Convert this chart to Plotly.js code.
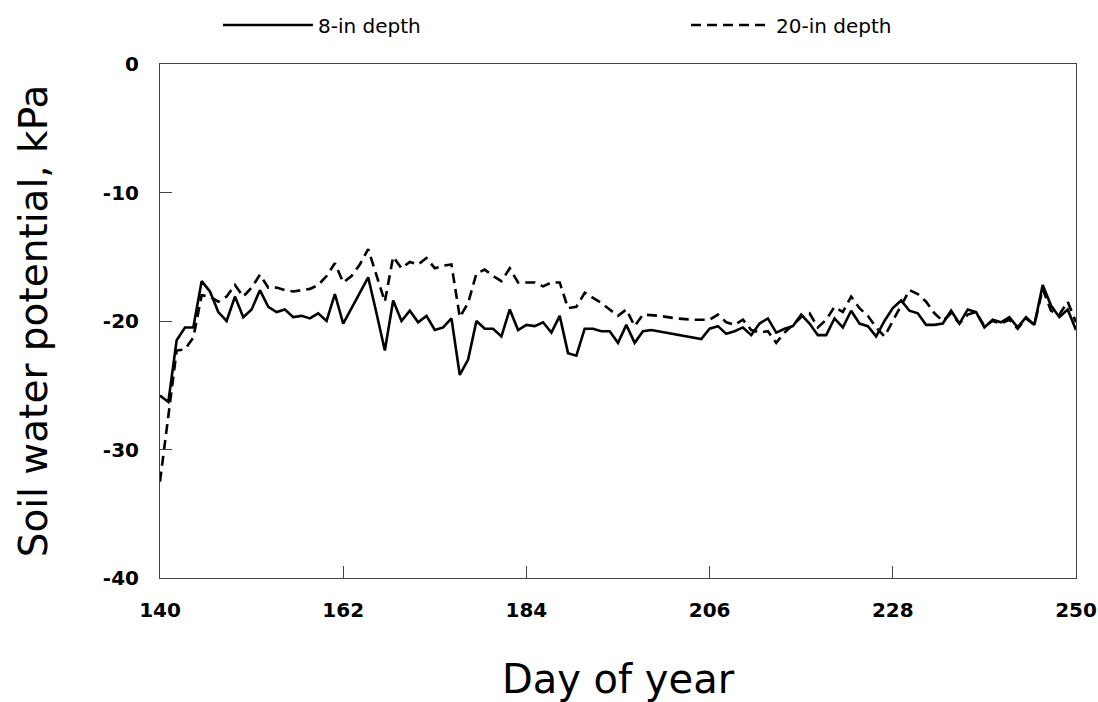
<!DOCTYPE html>
<html>
<head>
<meta charset="utf-8">
<script src="https://cdn.plot.ly/plotly-3.0.1.min.js"></script>
<style>html,body{margin:0;padding:0;background:#fff;}#chart{width:1098px;height:702px;}</style>
</head>
<body>
<div id="chart"></div>
<script>
// Day of year and soil water potential (kPa)
var days8 = [140,141,142,143,144,145,146,147,148,149,150,151,152,153,154,155,156,157,158,159,
  160,161,162,163,164,165,166,167,168,169,170,171,172,173,174,175,176,177,178,179,
  180,181,182,183,184,185,186,187,188,189,190,191,192,193,194,195,196,197,198,199,
  205,206,207,208,209,210,211,212,213,214,215,216,217,218,219,220,221,222,223,224,
  225,226,227,228,229,230,231,232,233,234,235,236,237,238,239,240,241,242,243,244,
  245,246,247,248,249,250];
var depth8 = [-25.8,-26.3,-21.5,-20.5,-20.5,-16.9,-17.7,-19.3,-20.0,-18.1,-19.7,-19.1,-17.6,-18.9,-19.3,-19.1,-19.7,-19.6,-19.8,-19.4,
  -20.0,-17.9,-20.2,-19.0,-17.8,-16.6,-19.4,-22.3,-18.4,-20.0,-19.2,-20.1,-19.6,-20.7,-20.5,-19.8,-24.2,-23.0,-20.0,-20.6,
  -20.6,-21.2,-19.1,-20.7,-20.3,-20.4,-20.1,-20.9,-19.6,-22.5,-22.7,-20.6,-20.6,-20.8,-20.8,-21.7,-20.3,-21.7,-20.8,-20.7,
  -21.4,-20.6,-20.4,-21.0,-20.8,-20.5,-21.1,-20.2,-19.8,-20.9,-20.6,-20.4,-19.5,-20.2,-21.1,-21.1,-19.8,-20.5,-19.2,-20.2,
  -20.4,-21.2,-20.0,-19.0,-18.4,-19.2,-19.4,-20.3,-20.3,-20.2,-19.2,-20.2,-19.1,-19.3,-20.5,-19.9,-20.1,-19.7,-20.5,-19.7,
  -20.3,-17.2,-18.8,-19.7,-19.1,-20.7];

var days20 = [140,141,142,143,144,145,146,147,148,149,150,151,152,153,154,155,156,157,158,159,
  160,161,162,163,164,165,166,167,168,169,170,171,172,173,174,175,176,177,178,179,
  180,181,182,183,184,185,186,187,188,189,190,191,192,193,194,195,196,197,198,
  200,202,204,206,207,208,209,210,211,212,213,214,215,216,217,218,219,220,221,222,
  223,224,225,226,227,228,229,230,231,232,233,234,235,236,237,238,239,240,241,242,
  243,244,245,246,247,248,249,250];
var depth20 = [-32.5,-27.4,-22.3,-22.2,-21.3,-18.0,-18.1,-18.5,-18.1,-17.2,-18.1,-17.4,-16.4,-17.4,-17.4,-17.6,-17.7,-17.6,-17.5,-17.2,
  -16.5,-15.5,-17.0,-16.5,-15.6,-14.4,-16.5,-18.5,-15.0,-15.9,-15.4,-15.6,-15.1,-15.9,-15.7,-15.6,-19.7,-18.6,-16.3,-16.0,
  -16.5,-16.9,-15.9,-17.0,-17.0,-17.0,-17.3,-17.0,-17.0,-19.0,-18.9,-17.8,-18.2,-18.6,-19.1,-19.6,-19.1,-20.4,-19.5,
  -19.6,-19.8,-19.9,-19.9,-19.5,-20.1,-20.3,-19.9,-20.7,-20.9,-20.8,-21.7,-20.9,-20.3,-19.7,-19.4,-20.5,-19.9,-18.9,-19.3,
  -18.1,-19.0,-19.6,-20.5,-21.2,-20.0,-18.8,-17.6,-17.9,-18.5,-19.4,-20.0,-19.4,-20.2,-19.5,-19.3,-20.4,-20.0,-20.2,-19.9,
  -20.6,-19.8,-20.3,-17.5,-19.2,-19.5,-18.5,-20.1];

var xTicks = [140,162,184,206,228,250];
var yTicks = [0,-10,-20,-30,-40];
var seriesNames = ['8-in depth','20-in depth'];

var FONT = 'DejaVu Sans, Verdana, sans-serif';

var traces = [
  {x: days8, y: depth8, name: seriesNames[0], type: 'scatter', mode: 'lines', legend: 'legend',
   line: {color: '#000', width: 2.6}},
  {x: days20, y: depth20, name: seriesNames[1], type: 'scatter', mode: 'lines', legend: 'legend2',
   line: {color: '#000', width: 2.6, dash: '10px,6px'}}
];

var axisCommon = {
  showgrid: false, zeroline: false, showline: true, mirror: true,
  linecolor: '#444', linewidth: 1, ticks: 'inside', ticklen: 12, tickcolor: '#444',
  tickfont: {family: FONT, size: 20, color: '#000', weight: 'bold'}
};

var legendCommon = {orientation: 'h', yanchor: 'middle', xanchor: 'left',
  xref: 'container', yref: 'container', y: 0.9644,
  font: {family: FONT, size: 20, color: '#000'}, bgcolor: 'rgba(0,0,0,0)', borderwidth: 0};

var layout = {
  width: 1098, height: 702,
  paper_bgcolor: '#fff', plot_bgcolor: '#fff',
  margin: {l: 160, r: 22, t: 64, b: 124, autoexpand: false},
  showlegend: true,
  legend: Object.assign({}, legendCommon, {x: 0.1985, itemwidth: 90}),
  legend2: Object.assign({}, legendCommon, {x: 0.6248, itemwidth: 80}),
  xaxis: Object.assign({}, axisCommon, {
    range: [140, 250], tickmode: 'array', tickvals: xTicks, ticktext: xTicks.map(String),
    ticklabelstandoff: 14,
    title: {text: 'Day of year', font: {family: FONT, size: 40, color: '#000'}, standoff: 44}
  }),
  yaxis: Object.assign({}, axisCommon, {
    range: [-40, 0], tickmode: 'array', tickvals: yTicks, ticktext: yTicks.map(String),
    ticklabelstandoff: 16,
    title: {text: 'Soil water potential, kPa', font: {family: FONT, size: 39, color: '#000'}, standoff: 43}
  })
};

Plotly.newPlot('chart', traces, layout, {displayModeBar: false, staticPlot: true});
</script>
</body>
</html>
